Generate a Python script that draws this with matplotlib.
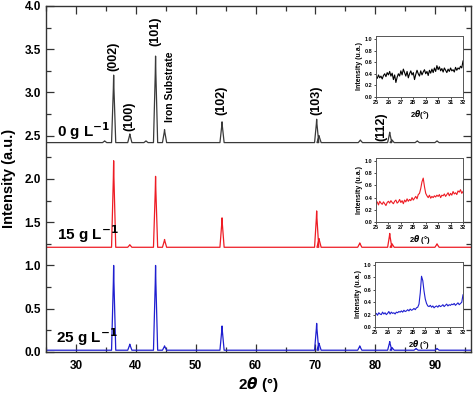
import numpy as np
import matplotlib
matplotlib.use("Agg")
import matplotlib.pyplot as plt
from matplotlib.ticker import MultipleLocator

plt.rcParams['font.family'] = ['Liberation Sans', 'DejaVu Sans']
plt.rcParams['font.weight'] = 'bold'

# main patterns: baseline, peak positions (2theta) and peak heights above baseline
base_0 = 2.42
pos_0 = [34.8, 36.3, 39.0, 41.7, 43.3, 44.8, 54.4, 70.2, 70.6, 77.5, 82.4, 82.8, 87.0, 90.3]
h_0 = [0.02, 0.78, 0.10, 0.02, 1.00, 0.15, 0.24, 0.27, 0.08, 0.03, 0.12, 0.03, 0.02, 0.02]

base_15 = 1.21
pos_15 = [36.3, 39.0, 43.3, 44.8, 54.4, 70.2, 70.6, 77.4, 82.4, 82.8, 90.3]
h_15 = [1.00, 0.03, 0.82, 0.09, 0.34, 0.42, 0.10, 0.05, 0.16, 0.04, 0.04]

base_25 = 0.02
pos_25 = [36.3, 39.0, 43.3, 44.8, 54.4, 70.2, 70.6, 77.4, 82.4, 82.8, 86.8, 90.3]
h_25 = [0.98, 0.07, 0.98, 0.05, 0.28, 0.31, 0.08, 0.05, 0.10, 0.03, 0.02, 0.02]

# inset data, 25-32 deg in 0.1 steps
ins_x = np.round(np.arange(25.0, 32.01, 0.1), 1)
ins_0 = [0.36, 0.32, 0.38, 0.33, 0.36, 0.31, 0.37, 0.40, 0.35, 0.42,
         0.38, 0.44, 0.36, 0.41, 0.30, 0.38, 0.25, 0.34, 0.40, 0.36,
         0.45, 0.38, 0.48, 0.42, 0.36, 0.44, 0.33, 0.40, 0.45, 0.38,
         0.42, 0.30, 0.39, 0.46, 0.40, 0.36, 0.45, 0.38, 0.43, 0.47,
         0.40, 0.44, 0.37, 0.46, 0.41, 0.48, 0.42, 0.50, 0.44, 0.54,
         0.47, 0.52, 0.45, 0.49, 0.43, 0.50, 0.46, 0.42, 0.48, 0.44,
         0.50, 0.45, 0.47, 0.43, 0.51, 0.46, 0.50, 0.48, 0.53, 0.50, 0.62]
ins_15 = [0.30, 0.33, 0.28, 0.34, 0.31, 0.29, 0.33, 0.30, 0.27, 0.32,
          0.34, 0.31, 0.35, 0.32, 0.30, 0.34, 0.36, 0.31, 0.33, 0.37,
          0.32, 0.35, 0.30, 0.36, 0.33, 0.38, 0.34, 0.37, 0.35, 0.40,
          0.36, 0.39, 0.42, 0.38, 0.45, 0.47, 0.55, 0.66, 0.72, 0.58,
          0.47, 0.43, 0.40, 0.44, 0.39, 0.42, 0.40, 0.43, 0.41, 0.44,
          0.42, 0.45, 0.40, 0.44, 0.43, 0.46, 0.42, 0.45, 0.48, 0.43,
          0.47, 0.44, 0.50, 0.46, 0.48, 0.45, 0.51, 0.49, 0.53, 0.47, 0.50]
ins_25 = [0.20, 0.22, 0.19, 0.23, 0.21, 0.20, 0.24, 0.21, 0.23, 0.20,
          0.22, 0.25, 0.21, 0.24, 0.22, 0.23, 0.21, 0.24, 0.23, 0.25,
          0.24, 0.26, 0.24, 0.27, 0.25, 0.26, 0.28, 0.26, 0.29, 0.27,
          0.28, 0.30, 0.28, 0.31, 0.32, 0.37, 0.55, 0.82, 0.75, 0.58,
          0.45, 0.38, 0.34, 0.33, 0.35, 0.32, 0.34, 0.31, 0.33, 0.34,
          0.32, 0.35, 0.33, 0.34, 0.36, 0.33, 0.35, 0.37, 0.34, 0.36,
          0.35, 0.37, 0.36, 0.38, 0.35, 0.37, 0.39, 0.36, 0.38, 0.40, 0.52]

peak_labels = ['(002)', '(100)', '(101)', '(102)', '(103)', '(112)']
label_x = [36.3, 39.0, 43.3, 54.3, 70.2, 81.0]
label_y = [3.42, 2.72, 3.71, 2.91, 2.91, 2.60]

c_0 = '#3a3a3a'
c_15 = '#ee1c24'
c_25 = '#1f1fd0'


def pattern(base, pos, h, w=0.35):
    xs = [25.0]
    ys = [base]
    for p, hh in zip(pos, h):
        xs += [p - w, p - 0.05, p, p + 0.05, p + w]
        ys += [base, base + 0.8 * hh, base + hh, base + 0.8 * hh, base]
    xs.append(96.0)
    ys.append(base)
    return xs, ys


fig = plt.figure(figsize=(4.74, 3.95), dpi=100)
ax = fig.add_axes([0.097, 0.109, 0.897, 0.876])

for base, pos, h, c in [(base_0, pos_0, h_0, c_0), (base_15, pos_15, h_15, c_15),
                        (base_25, pos_25, h_25, c_25)]:
    xs, ys = pattern(base, pos, h)
    ax.plot(xs, ys, color=c, lw=0.9)

ax.set_xlim(25, 96)
ax.set_ylim(0, 4.0)
ax.xaxis.set_minor_locator(MultipleLocator(5))
ax.yaxis.set_major_locator(MultipleLocator(0.5))
ax.yaxis.set_minor_locator(MultipleLocator(0.25))
ax.tick_params(which='both', direction='in', top=True, right=True, labelsize=8.5, color='#333333')
ax.tick_params(which='major', length=6, width=0.9)
ax.tick_params(which='minor', length=3.5, width=0.9)
ax.tick_params(axis='x', pad=6)
for s in ax.spines.values():
    s.set_color('#333333')
    s.set_linewidth(1.0)
ax.set_xticks([30, 40, 50, 60, 70, 80, 90])
ax.set_xticklabels(['30', '40', '50', '60', '70', '80', '90'])

ax.set_xlabel(r'2$\theta$ (°)', fontsize=11, fontweight='bold', labelpad=2)
ax.set_ylabel('Intensity (a.u.)', fontsize=10.5, fontweight='bold', labelpad=6)

ax.text(26.8, 2.55, r'0 g L$^{-1}$', fontsize=11, fontweight='bold', va='center')
ax.text(26.8, 1.36, r'15 g L$^{-1}$', fontsize=11, fontweight='bold', va='center')
ax.text(26.7, 0.17, r'25 g L$^{-1}$', fontsize=11, fontweight='bold', va='center')

for t, x, y in zip(peak_labels, label_x, label_y):
    ax.text(x, y, t, rotation=90, fontsize=9, fontweight='bold', ha='center', va='center')
ax.text(45.7, 3.06, 'Iron Substrate', rotation=90, fontsize=7.5, fontweight='bold',
        ha='center', va='center')

# insets
inset_boxes = [[376, 36, 463, 97], [376, 158, 463, 222], [375, 262, 463, 327]]
inset_data = [(ins_0, 'black', 'Intensity (u.a.)', r'2$\theta$(°)'),
              (ins_15, c_15, 'Intensity (u.a.)', r'2$\theta$ (°)'),
              (ins_25, c_25, 'Intensity (u.a.)', r'2$\theta$ (°)')]
W, H = 474.0, 395.0
for (x0, y0, x1, y1), (vals, c, yl, xl) in zip(inset_boxes, inset_data):
    ia = fig.add_axes([x0 / W, 1 - y1 / H, (x1 - x0) / W, (y1 - y0) / H])
    ia.plot(ins_x, vals, color=c, lw=0.8)
    ia.set_xlim(25, 32)
    ia.set_ylim(0, 1.05)
    ia.set_xticks(range(25, 33))
    ia.set_yticks([0.0, 0.2, 0.4, 0.6, 0.8, 1.0])
    ia.set_yticklabels(['0.0', '0.2', '0.4', '0.6', '0.8', '1.0'])
    ia.tick_params(labelsize=4, length=1.5, width=0.5, pad=1)
    ia.set_ylabel(yl, fontsize=5, fontweight='bold', labelpad=1)
    ia.set_xlabel(xl, fontsize=5.5, fontweight='bold', labelpad=2)
    for s in ia.spines.values():
        s.set_color('#555555')
        s.set_linewidth(0.7)

fig.savefig('out.png', dpi=100)
